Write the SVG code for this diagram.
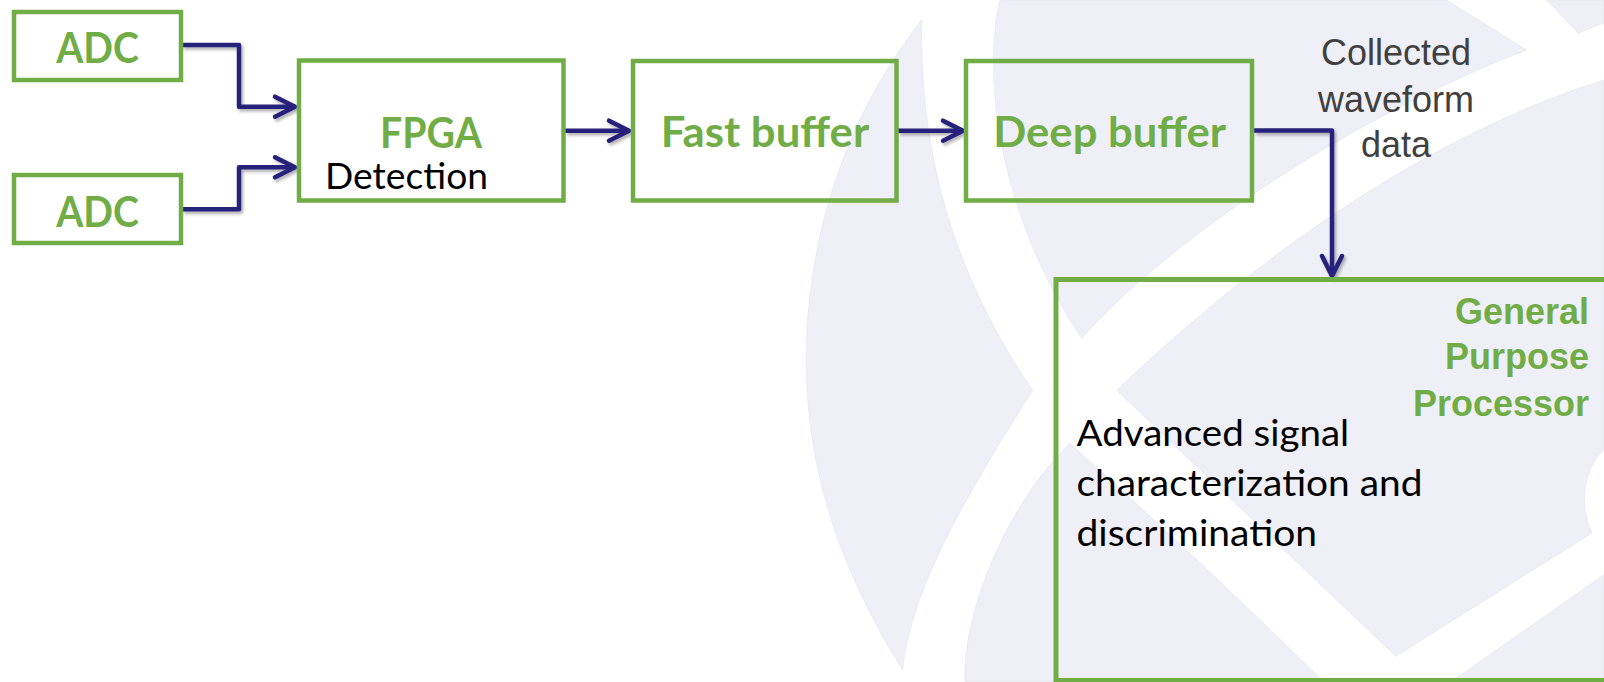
<svg xmlns="http://www.w3.org/2000/svg" width="1604" height="682" viewBox="0 0 1604 682">
<style>
.box{fill:none;stroke:#70AD47;stroke-width:4.5}
.bg{fill:#EFEFF7;stroke:#E2E2EC;stroke-width:0.6}
.conn{fill:none;stroke:#28207C;stroke-width:4.5;stroke-linejoin:round}
.lbl{font-family:Lato,"Liberation Sans",sans-serif;font-weight:bold;fill:#70AD47;font-size:42px;text-anchor:middle}
.sub{font-family:Lato,"Liberation Sans",sans-serif;font-weight:normal;fill:#000;font-size:36px}
.gray{font-family:"Liberation Sans",Arial,sans-serif;fill:#404040;font-size:36px;text-anchor:middle}
.gpp{font-family:"Liberation Sans",Arial,sans-serif;font-weight:bold;fill:#70AD47;font-size:36px;text-anchor:end}
</style>
<defs>
<marker id="ah" markerUnits="userSpaceOnUse" markerWidth="40" markerHeight="40" viewBox="-30 -20 40 40" refX="0" refY="0" orient="auto" overflow="visible">
<path d="M-20,-10 L0,0 L-20,10" fill="none" stroke="#28207C" stroke-width="4.5" stroke-linecap="round" stroke-linejoin="round"/>
</marker>
<filter id="sh" filterUnits="userSpaceOnUse" x="0" y="0" width="1604" height="682">
<feDropShadow dx="2" dy="2.5" stdDeviation="1.5" flood-color="#000" flood-opacity="0.3"/>
</filter>
</defs>
<rect width="1604" height="682" fill="#FFFFFF"/>
<g id="background">
<path class="bg" d="M921.7,20 C870,85 815,190 807,330 C800,460 840,570 902.7,670 C910,600 950,520 1032.7,390.3 C985,320 918,200 921.7,20 Z"/>
<path class="bg" d="M1000,0 C985,60 990,200 1081.7,338.5 C1150,260 1320,130 1526.7,50 L1446.7,0 Z"/>
<path class="bg" d="M1546.7,0 L1578,33 L1604,23 L1604,0 Z"/>
<path class="bg" d="M1116.7,390.3 C1190,320 1380,150 1604,80 L1604,450 C1585,465 1578,505 1592,533 L1395.7,656.3 Z"/>
<path class="bg" d="M1070,443.3 Q1200,560 1324,682 L965,682 C962,610 1010,500 1070,443.3 Z"/>
<path class="bg" d="M1450.7,682 L1604,574.7 L1604,682 Z"/>
</g>
<g id="connectors" filter="url(#sh)">
<path class="conn" d="M182,45 H239 V106.7 H295" marker-end="url(#ah)"/>
<path class="conn" d="M182,209.3 H239 V167.3 H295" marker-end="url(#ah)"/>
<path class="conn" d="M565,130.7 H629" marker-end="url(#ah)"/>
<path class="conn" d="M898,130.7 H963" marker-end="url(#ah)"/>
<path class="conn" d="M1254,130.5 H1332 V276" marker-end="url(#ah)"/>
</g>
<g id="adc1">
<rect class="box" x="14" y="12" width="167" height="68"/>
<text class="lbl" x="97.5" y="63.3" textLength="82.7" lengthAdjust="spacingAndGlyphs">ADC</text>
</g>
<g id="adc2">
<rect class="box" x="14" y="175" width="167" height="68"/>
<text class="lbl" x="97.5" y="227" textLength="82.7" lengthAdjust="spacingAndGlyphs">ADC</text>
</g>
<g id="fpga">
<rect class="box" x="299" y="60.5" width="264.5" height="140"/>
<text class="lbl" x="431" y="148.3" textLength="102" lengthAdjust="spacingAndGlyphs">FPGA</text>
<text class="sub" x="325" y="189.3" textLength="163" lengthAdjust="spacingAndGlyphs">Detection</text>
</g>
<g id="fast-buffer">
<rect class="box" x="633" y="61" width="263.5" height="139.5"/>
<text class="lbl" x="765" y="147.3" textLength="208.5" lengthAdjust="spacingAndGlyphs">Fast buffer</text>
</g>
<g id="deep-buffer">
<rect class="box" x="966" y="61" width="286" height="139.5"/>
<text class="lbl" x="1109.6" y="147.3" textLength="232.7" lengthAdjust="spacingAndGlyphs">Deep buffer</text>
</g>
<g id="data-label">
<text class="gray" x="1396" y="65.3">Collected</text>
<text class="gray" x="1396" y="111.7">waveform</text>
<text class="gray" x="1396" y="156.7">data</text>
</g>
<g id="gpp">
<rect class="box" x="1056" y="279.5" width="570" height="401" style="stroke-width:5"/>
<text class="gpp" x="1589" y="324">General</text>
<text class="gpp" x="1589" y="369.3">Purpose</text>
<text class="gpp" x="1589" y="415.5">Processor</text>
<text class="sub" x="1076.5" y="445.7" textLength="272.7" lengthAdjust="spacingAndGlyphs">Advanced signal</text>
<text class="sub" x="1076.5" y="495.7" textLength="346" lengthAdjust="spacingAndGlyphs">characterization and</text>
<text class="sub" x="1076.5" y="545.5" textLength="240.6" lengthAdjust="spacingAndGlyphs">discrimination</text>
</g>
</svg>
